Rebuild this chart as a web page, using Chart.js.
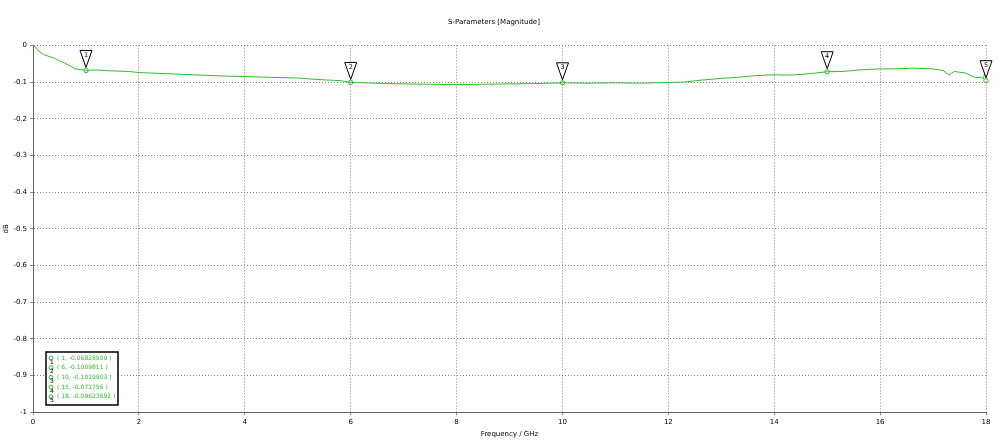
<!DOCTYPE html>
<html><head><meta charset="utf-8">
<script src="https://cdn.jsdelivr.net/npm/chart.js@4"></script>
<style>html,body{margin:0;background:#fff}#w{width:1000px;height:442px}</style>
</head><body><div id="w"><canvas id="c"></canvas></div>
<script>
const freqs=[0,0.05,0.1,0.2,0.3,0.4,0.5,0.6,0.7,0.8,0.9,1,1.2,1.4,1.6,1.8,2,2.5,3,3.5,4,4.5,5,5.5,5.8,6,6.3,6.6,7,7.5,8,8.5,9,9.5,10,10.5,11,11.5,12,12.3,12.6,13,13.3,13.6,14,14.3,14.6,15,15.3,15.6,16,16.3,16.6,17,17.2,17.3,17.4,17.6,17.8,17.9,17.95,18];
const s21=[0,-0.005,-0.015,-0.025,-0.03,-0.035,-0.042,-0.048,-0.056,-0.064,-0.066,-0.068,-0.067,-0.069,-0.07,-0.071,-0.074,-0.077,-0.08,-0.083,-0.085,-0.087,-0.089,-0.094,-0.096,-0.101,-0.102,-0.104,-0.105,-0.106,-0.107,-0.106,-0.105,-0.104,-0.102,-0.103,-0.102,-0.103,-0.101,-0.1,-0.095,-0.09,-0.087,-0.083,-0.08,-0.081,-0.078,-0.0718,-0.071,-0.067,-0.064,-0.064,-0.062,-0.064,-0.069,-0.081,-0.071,-0.075,-0.088,-0.087,-0.091,-0.06];
const markerX=[1,6,10,15,18];
const markerY=[-0.06828509,-0.1009811,-0.1019903,-0.071756,-0.09623692];
const markerText=['( 1, -0.06828509 )','( 6, -0.1009811 )','( 10, -0.1019903 )','( 15, -0.071756 )','( 18, -0.09623692 )'];
const green='#33bb33';
const markers={id:'mk',afterDatasetsDraw(ch){
 const c=ch.ctx,x=ch.scales.x,y=ch.scales.y;c.save();c.setLineDash([]);
 c.font='6.5px "DejaVu Sans"';c.textAlign='center';c.textBaseline='middle';
 markerX.forEach((v,i)=>{const px=x.getPixelForValue(v),py=y.getPixelForValue(markerY[i]);
  c.strokeStyle=green;c.lineWidth=1;c.beginPath();c.arc(px,py,2.2,0,7);c.stroke();
  c.strokeStyle='#000';c.fillStyle='#fff';c.beginPath();c.moveTo(px-6,py-20);c.lineTo(px+6,py-20);c.lineTo(px,py-3);c.closePath();c.fill();c.stroke();
  c.fillStyle='#000';c.fillText(String(i+1),px,py-15);});
 const bx=46,by=352;
 c.fillStyle='#fff';c.strokeStyle='#000';c.lineWidth=1.5;c.fillRect(bx,by,72,53);c.strokeRect(bx,by,72,53);
 c.textAlign='left';c.font='6px "DejaVu Sans"';
 markerText.forEach((t,i)=>{const ty=by+6+i*9.7;c.strokeStyle=green;c.lineWidth=1;c.beginPath();c.arc(bx+5,ty,2,0,7);c.stroke();
  c.fillStyle='#000';c.fillText(String(i+1),bx+4,ty+4);c.fillStyle=green;c.fillText(t,bx+11,ty);});
 c.restore();}};
const tf={family:'DejaVu Sans',size:7};
new Chart(document.getElementById('c'),{type:'line',
 data:{datasets:[{data:freqs.map((f,i)=>({x:f,y:s21[i]})),borderColor:green,borderWidth:1,pointRadius:0,tension:0}]},
 options:{responsive:true,maintainAspectRatio:false,animation:false,
  layout:{padding:{left:2,right:14,top:0,bottom:4}},
  plugins:{legend:{display:false},tooltip:{enabled:false},
   title:{display:true,text:'S-Parameters [Magnitude]',font:{family:'DejaVu Sans',size:7,weight:'normal'},color:'#000',padding:{top:18,bottom:19}}},
  scales:{
   x:{type:'linear',min:0,max:18,ticks:{stepSize:2,font:tf,color:'#000',maxRotation:0},
    grid:{color:'#888',tickLength:3},border:{display:true,color:'#666',dash:[1,2]},
    title:{display:true,text:'Frequency / GHz',font:tf,color:'#000',padding:0}},
   y:{min:-1,max:0,ticks:{stepSize:0.1,font:tf,color:'#000',callback:v=>Math.round(v*10)/10===0?'0':String(Math.round(v*10)/10)},
    grid:{color:'#888',tickLength:3},border:{display:true,color:'#666',dash:[1,2]},
    title:{display:true,text:'dB',font:tf,color:'#000',padding:0}}}},
 plugins:[markers]});
</script></body></html>
